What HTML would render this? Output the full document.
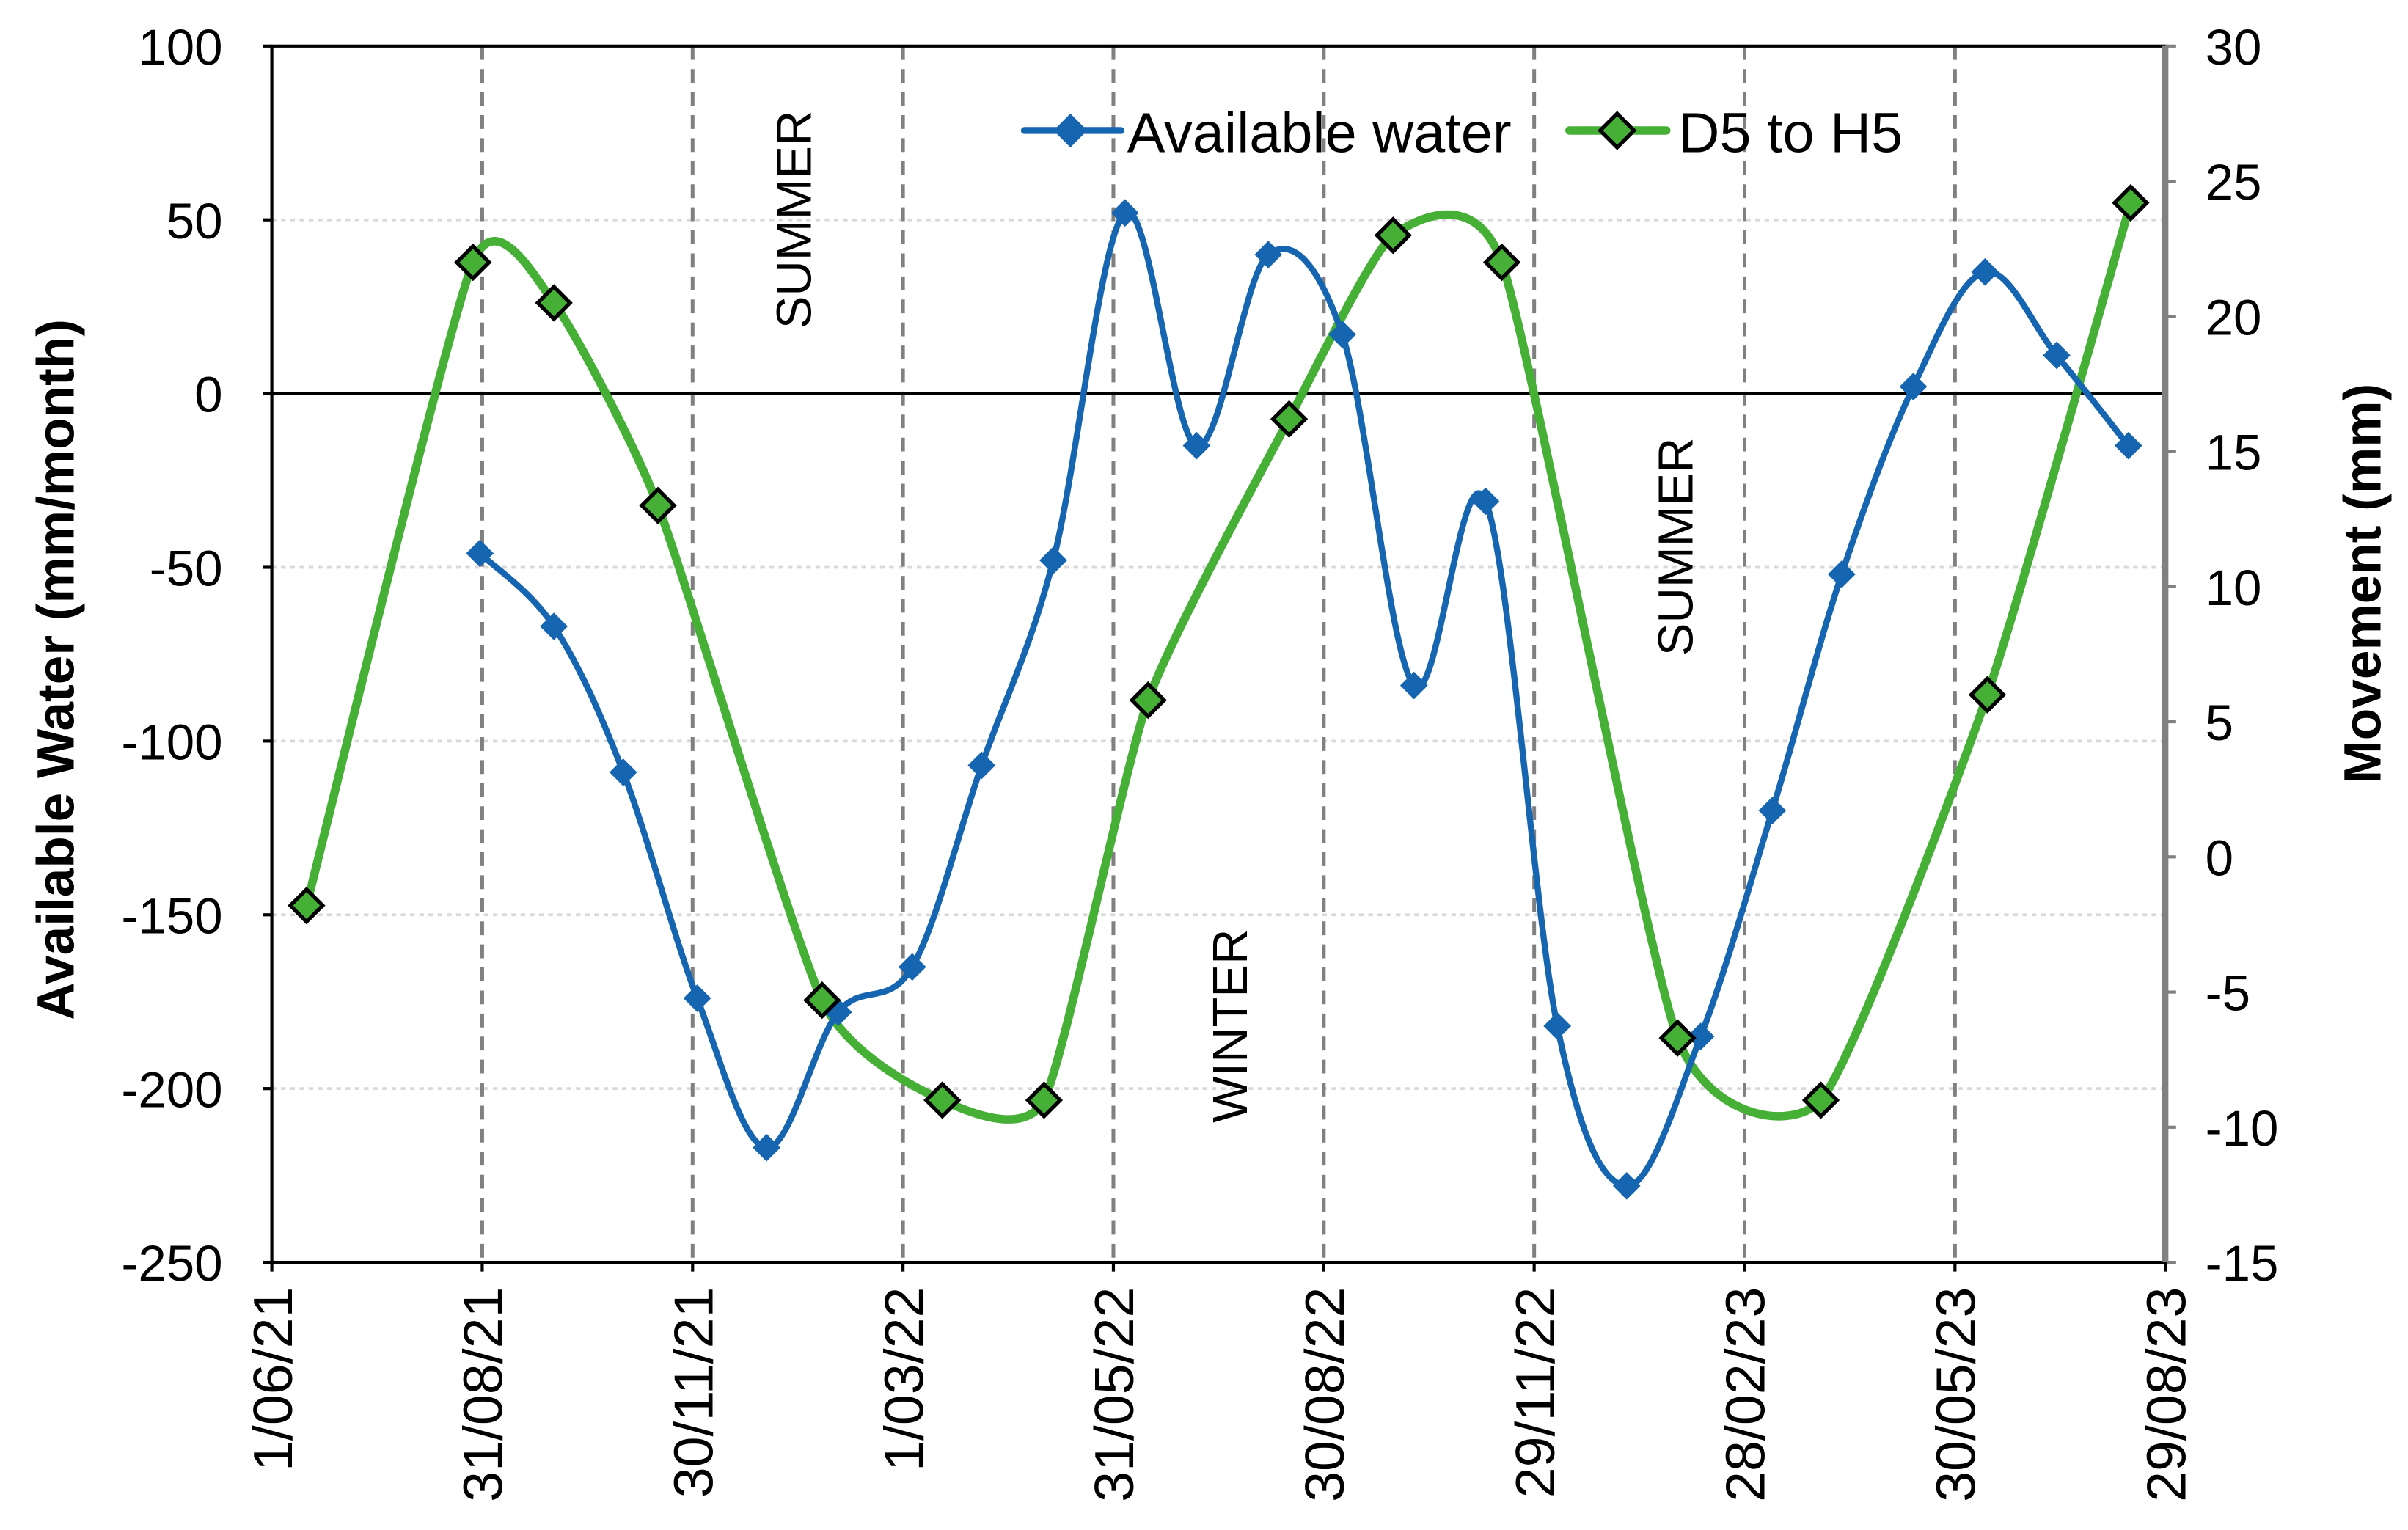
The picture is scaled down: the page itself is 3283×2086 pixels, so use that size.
<!DOCTYPE html>
<html><head><meta charset="utf-8"><style>body{margin:0;background:#fff}svg{display:block}text{font-family:"Liberation Sans",Arial,sans-serif}</style></head>
<body>
<svg id="chart" width="3283" height="2086" viewBox="0 0 1568 996.3" preserveAspectRatio="none" xmlns="http://www.w3.org/2000/svg">
<rect width="1568" height="996.3" fill="#fff"/>
<g id="g"></g>
</svg>
<script>
const xTickLabels=["1/06/21","31/08/21","30/11/21","1/03/22","31/05/22","30/08/22","29/11/22","28/02/23","30/05/23","29/08/23"];
const xTickDays=[0,91,182,273,364,455,546,637,728,819];
const leftTicks=[100,50,0,-50,-100,-150,-200,-250];
const rightTicks=[30,25,20,15,10,5,0,-5,-10,-15];
const awDays=[90,122,152,184,214,245,277,307,338,369,400,431,463,494,525,556,586,618,649,679,710,741,772,803];
const awVals=[-46,-67,-109,-174,-217,-178,-165,-107,-48,52,-15,40,17,-84,-31,-182,-228,-185,-120,-52,2,35,11,-15];
const mvDays=[15,87,122,167,238,290,334,379,440,485,532,608,670,742,804];
const mvVals=[-1.8,22,20.5,13,-5.3,-9,-9,5.8,16.2,23,22,-6.7,-9,6,24.2];

const L=177,R=1410,T=30,B=822;
const xs=d=>L+(d/819)*(R-L);
const yl=v=>T+(100-v)/350*(B-T);
const yr=v=>T+(30-v)/45*(B-T);
const NS="http://www.w3.org/2000/svg";
const g=document.getElementById('g');
function el(tag,attrs,parent){const e=document.createElementNS(NS,tag);for(const k in attrs)e.setAttribute(k,attrs[k]);(parent||g).appendChild(e);return e;}

leftTicks.forEach(v=>{if(v===100||v===-250||v===0)return;
 const ln=el('line',{x1:L,x2:R,y1:yl(v),y2:yl(v),stroke:'#d9d9d9','stroke-width':1.8,'stroke-dasharray':'3,3'});
 
 });
xTickDays.forEach(d=>{if(d===0||d===819)return;
 const ln=el('line',{x1:xs(d),x2:xs(d),y1:T,y2:B,stroke:'#808080','stroke-width':2.4,'stroke-dasharray':'9,6'});
 
 });
const zl=el('line',{x1:L,x2:R,y1:yl(0),y2:yl(0),stroke:'#000','stroke-width':2});


const fr=el('rect',{x:L,y:T,width:R-L,height:B-T,fill:'none',stroke:'#000','stroke-width':2});


const ra=el('line',{x1:R,x2:R,y1:T,y2:B,stroke:'#808080','stroke-width':4});



leftTicks.forEach(v=>{
 el('line',{x1:L-6,x2:L,y1:yl(v),y2:yl(v),stroke:'#000','stroke-width':2});
 const t=el('text',{x:L-32,y:yl(v)+12,'font-size':33,'text-anchor':'end'});t.textContent=v;
 
 });
rightTicks.forEach(v=>{
 el('line',{x1:R,x2:R+7,y1:yr(v),y2:yr(v),stroke:'#808080','stroke-width':2});
 const t=el('text',{x:R+26,y:yr(v)+12,'font-size':33,'text-anchor':'start'});t.textContent=v;
 
 });
xTickLabels.forEach((s,i)=>{const x=xs(xTickDays[i]);
 el('line',{x1:x,x2:x,y1:B,y2:B+6,stroke:'#000','stroke-width':2});
 const t=el('text',{x:0,y:0,'font-size':36,'text-anchor':'end',transform:`translate(${x+13},${B+16}) rotate(-90)`});t.textContent=s;
 
 });

let t=el('text',{x:0,y:0,'font-size':34,'font-weight':'bold','text-anchor':'middle',transform:`translate(48,${(T+B)/2+10}) rotate(-90)`});
t.textContent='Available Water  (mm/month)';


t=el('text',{x:0,y:0,'font-size':34,'font-weight':'bold','text-anchor':'middle',transform:`translate(1550,380) rotate(-90)`});
t.textContent='Movement (mm)';



[['SUMMER',528,143],['WINTER',812,668],['SUMMER',1102,356]].forEach(a=>{
 const s=el('text',{x:0,y:0,'font-size':32,'text-anchor':'middle',transform:`translate(${a[1]},${a[2]}) rotate(-90)`});s.textContent=a[0];
 
 });

function smooth(pts,k){let d=`M${pts[0][0]},${pts[0][1]}`;
 for(let i=0;i<pts.length-1;i++){const p0=pts[i-1]||pts[i],p1=pts[i],p2=pts[i+1],p3=pts[i+2]||p2;
  const c1=[p1[0]+(p2[0]-p0[0])*k,p1[1]+(p2[1]-p0[1])*k],c2=[p2[0]-(p3[0]-p1[0])*k,p2[1]-(p3[1]-p1[1])*k];
  d+=` C${c1[0]},${c1[1]} ${c2[0]},${c2[1]} ${p2[0]},${p2[1]}`;}return d;}

const gp=mvDays.map((d,i)=>[xs(d),yr(mvVals[i])]);
const gl=el('path',{d:smooth(gp,0.095),fill:'none',stroke:'#45B035','stroke-width':5.5});


const bp=awDays.map((d,i)=>[xs(d),yl(awVals[i])]);
const bl=el('path',{d:smooth(bp,1/6),fill:'none',stroke:'#1565B0','stroke-width':4});


function dia(x,y,r,fill,stroke,sw){return el('path',{d:`M${x},${y-r} L${x+r},${y} L${x},${y+r} L${x-r},${y}Z`,fill,stroke,'stroke-width':sw});}
bp.forEach(p=>{const m=dia(p[0],p[1],9,'#1565B0','none',0);
 
 });
gp.forEach(p=>{const m=dia(p[0],p[1],10.5,'#45B035','#000',2.5);
 
 });

const lg=el('g',{});


el('line',{x1:667,x2:730,y1:85,y2:85,stroke:'#1565B0','stroke-width':4.5,'stroke-linecap':'round'},lg);
lg.appendChild(dia(697,85,11,'#1565B0','none',0));
t=el('text',{x:734,y:99,'font-size':37},lg);t.textContent='Available water';


el('line',{x1:1022,x2:1085,y1:85,y2:85,stroke:'#45B035','stroke-width':5.5,'stroke-linecap':'round'},lg);
lg.appendChild(dia(1053,85,11,'#45B035','#000',2.5));
t=el('text',{x:1093,y:99,'font-size':37},lg);t.textContent='D5 to H5';


</script>
</body></html>
